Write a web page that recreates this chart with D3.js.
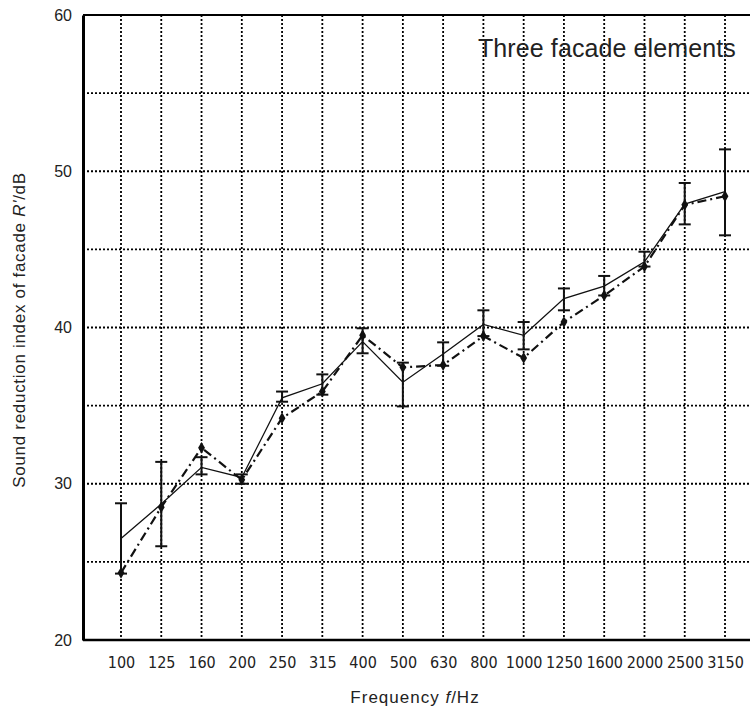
<!DOCTYPE html>
<html>
<head>
<meta charset="utf-8">
<script src="https://cdn.jsdelivr.net/npm/d3@7"></script>
<style>
  body { margin: 0; background: #fff; }
  .grid line { stroke: #000; stroke-width: 1.8; stroke-dasharray: 2,2; }
  .tick text { fill: #222; }
</style>
</head>
<body>
<svg id="chart"></svg>
<script>
// one-third octave bands
var freqs = ["100", "125", "160", "200", "250", "315", "400", "500", "630",
             "800", "1000", "1250", "1600", "2000", "2500", "3150"];
// solid line: mean value with its error bar
var meanR = [26.5, 28.7, 31.05, 30.4, 35.5, 36.4, 39.1, 36.5, 38.3,
             40.2, 39.5, 41.85, 42.65, 44.2, 47.9, 48.7];
var errHigh = [28.75, 31.4, 31.7, 30.6, 35.9, 37.0, 39.95, 37.75, 39.05,
               41.1, 40.35, 42.5, 43.3, 44.85, 49.25, 51.4];
var errLow = [24.25, 26.0, 30.6, 30.0, 35.25, 35.7, 38.35, 34.95, 37.55,
              39.45, 38.6, 41.1, 42.05, 43.9, 46.6, 45.9];
// dash-dot line with markers
var otherR = [24.3, 28.5, 32.3, 30.25, 34.2, 35.9, 39.5, 37.45, 37.6,
              39.45, 38.05, 40.35, 42.05, 43.9, 47.85, 48.4];
var yTicks = [20, 30, 40, 50, 60];
var yGrid = [25, 30, 35, 40, 45, 50, 55];

var W = 750, H = 715;
var margin = {top: 15, right: -13, bottom: 75, left: 83};
var width = W - margin.left - margin.right;
var height = H - margin.top - margin.bottom;

var root = d3.select("#chart").attr("width", W).attr("height", H);
var svg = root.append("g")
    .attr("transform", "translate(" + margin.left + "," + margin.top + ")");

var x = d3.scalePoint().domain(freqs).range([38, 642]);
var y = d3.scaleLinear().domain([20, 60]).range([height, 0]);

// dotted grid
var grid = svg.append("g").attr("class", "grid");
grid.selectAll(".hg").data(yGrid).enter().append("line")
    .attr("x1", 0).attr("x2", width)
    .attr("y1", function(d) { return y(d); })
    .attr("y2", function(d) { return y(d); });
grid.selectAll(".vg").data(freqs).enter().append("line")
    .attr("x1", function(d) { return x(d); })
    .attr("x2", function(d) { return x(d); })
    .attr("y1", 0).attr("y2", height);

// axes
var yAxis = svg.append("g")
    .call(d3.axisLeft(y).tickValues(yTicks).tickSize(0).tickPadding(11));
yAxis.select(".domain").attr("stroke", "#000").attr("stroke-width", 3);
yAxis.selectAll("text")
    .style("font-family", "'Liberation Sans', Arial, sans-serif")
    .style("font-size", "16px");

var xAxis = svg.append("g")
    .attr("transform", "translate(0," + height + ")")
    .call(d3.axisBottom(x).tickSize(0).tickPadding(17));
xAxis.select(".domain").remove();
xAxis.selectAll("text")
    .style("font-family", "'Liberation Sans Narrow', 'DejaVu Sans Condensed', sans-serif")
    .style("font-size", "16px");

svg.append("line")
    .attr("x1", 0).attr("x2", width).attr("y1", height).attr("y2", height)
    .attr("stroke", "#000").attr("stroke-width", 2.5);
svg.append("line")
    .attr("x1", 0).attr("x2", width).attr("y1", 0).attr("y2", 0)
    .attr("stroke", "#000").attr("stroke-width", 2);

// dash-dot series
var line2 = d3.line()
    .x(function(d, i) { return x(freqs[i]); })
    .y(function(d) { return y(d); });
svg.append("path")
    .datum(otherR)
    .attr("fill", "none")
    .attr("stroke", "#111")
    .attr("stroke-width", 2.2)
    .attr("stroke-dasharray", "9,4,2,4")
    .attr("d", line2);

svg.selectAll(".mk")
    .data(otherR)
    .enter()
    .append("path")
    .attr("transform", function(d, i) { return "translate(" + x(freqs[i]) + "," + y(d) + ")"; })
    .attr("d", d3.symbol().type(d3.symbolDiamond).size(40))
    .attr("fill", "#111");

// solid series
svg.append("path")
    .datum(meanR)
    .attr("fill", "none")
    .attr("stroke", "#111")
    .attr("stroke-width", 1.3)
    .attr("d", line2);

// error bars
var eb = svg.selectAll(".eb")
    .data(freqs)
    .enter()
    .append("g")
    .attr("stroke", "#111")
    .attr("stroke-width", 2);
eb.append("line")
    .attr("x1", function(d) { return x(d); })
    .attr("x2", function(d) { return x(d); })
    .attr("y1", function(d, i) { return y(errHigh[i]); })
    .attr("y2", function(d, i) { return y(errLow[i]); });
eb.append("line")
    .attr("x1", function(d) { return x(d) - 6; })
    .attr("x2", function(d) { return x(d) + 6; })
    .attr("y1", function(d, i) { return y(errHigh[i]); })
    .attr("y2", function(d, i) { return y(errHigh[i]); });
eb.append("line")
    .attr("x1", function(d) { return x(d) - 6; })
    .attr("x2", function(d) { return x(d) + 6; })
    .attr("y1", function(d, i) { return y(errLow[i]); })
    .attr("y2", function(d, i) { return y(errLow[i]); });

// labels
svg.append("text")
    .attr("x", 395)
    .attr("y", 42)
    .style("font-family", "'Liberation Sans', Arial, sans-serif")
    .style("font-size", "25px")
    .style("letter-spacing", "0.1px")
    .attr("fill", "#222")
    .text("Three facade elements");

var xt = root.append("text")
    .attr("x", 415)
    .attr("y", 703)
    .attr("text-anchor", "middle")
    .style("font-family", "'Liberation Sans', Arial, sans-serif")
    .style("font-size", "17px")
    .style("letter-spacing", "1px")
    .attr("fill", "#222");
xt.append("tspan").text("Frequency ");
xt.append("tspan").style("font-style", "italic").text("f");
xt.append("tspan").text("/Hz");

var yt = root.append("text")
    .attr("transform", "translate(25,330) rotate(-90)")
    .attr("text-anchor", "middle")
    .style("font-family", "'Liberation Sans', Arial, sans-serif")
    .style("font-size", "17px")
    .style("letter-spacing", "0.7px")
    .attr("fill", "#222");
yt.append("tspan").text("Sound reduction index of facade ");
yt.append("tspan").style("font-style", "italic").text("R'");
yt.append("tspan").text("/dB");
</script>
</body>
</html>
